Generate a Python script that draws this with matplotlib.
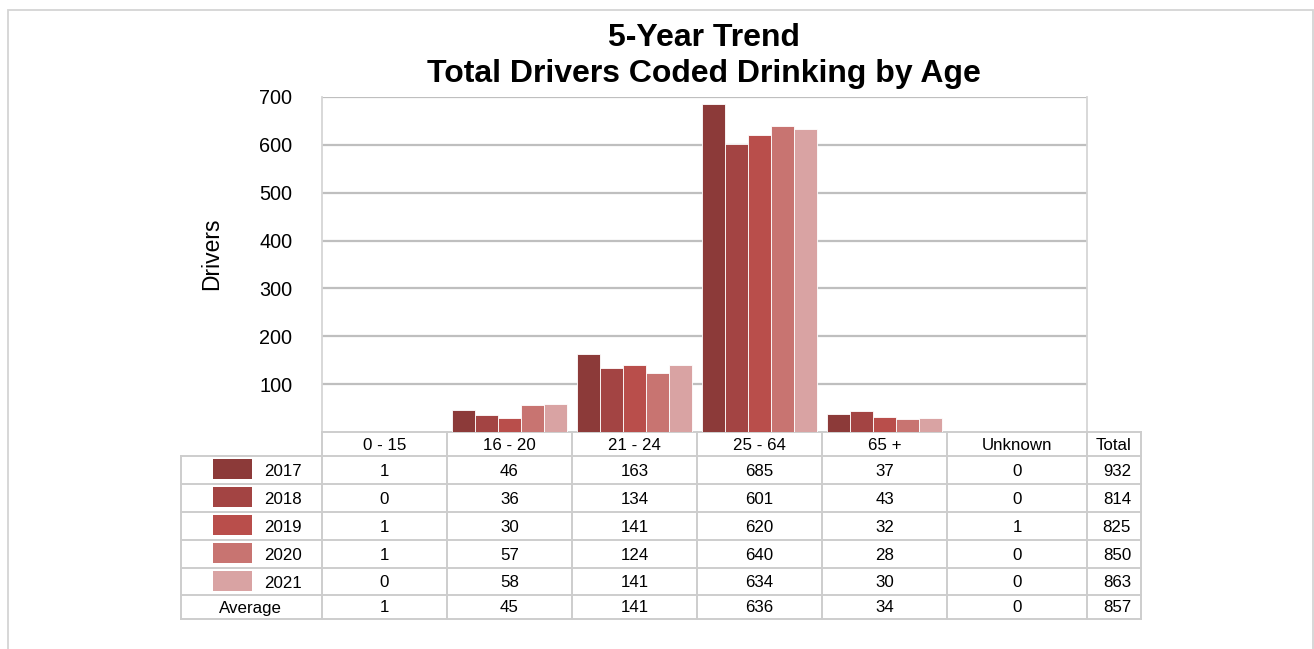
import matplotlib
matplotlib.use("Agg")
import numpy as np
from matplotlib import pyplot as plt
from matplotlib.patches import Rectangle
from matplotlib.lines import Line2D

plt.rcParams['font.family'] = ['Liberation Sans', 'DejaVu Sans']

age_groups = ['0 - 15', '16 - 20', '21 - 24', '25 - 64', '65 +', 'Unknown']
years = ['2017', '2018', '2019', '2020', '2021']
drivers_2017 = [1, 46, 163, 685, 37, 0]
drivers_2018 = [0, 36, 134, 601, 43, 0]
drivers_2019 = [1, 30, 141, 620, 32, 1]
drivers_2020 = [1, 57, 124, 640, 28, 0]
drivers_2021 = [0, 58, 141, 634, 30, 0]
average = [1, 45, 141, 636, 34, 0]
totals = [932, 814, 825, 850, 863]
avg_total = 857
colors = ['#8C3A39', '#A34443', '#B94E4B', '#C87471', '#D9A3A3']

series = [drivers_2017, drivers_2018, drivers_2019, drivers_2020, drivers_2021]

W, H = 1314, 649
fig = plt.figure(figsize=(W / 100, H / 100), dpi=100)


def fx(px):
    return px / W


def fy(py):
    return 1 - py / H


grid_c = '#BFBFBF'
tab_c = '#CDCDCD'

ax = fig.add_axes([fx(322), fy(432), fx(1087) - fx(322), fy(97) - fy(432)])
x = np.arange(len(age_groups))
bw = 0.184
for i, vals in enumerate(series):
    ax.bar(x + (i - 2) * bw, vals, width=bw, color=colors[i],
           edgecolor='white', linewidth=0.6, zorder=3)

ax.set_xlim(-0.5, 5.62)
ax.set_ylim(0, 700)
ax.set_yticks(range(100, 701, 100))
ax.set_xticks([])
ax.tick_params(axis='y', length=0, pad=21.5, labelsize=14.3)
ax.grid(axis='y', color=grid_c, linewidth=1.6, zorder=0)
for s in ['left', 'right']:
    ax.spines[s].set_color('#D6D6D6')
    ax.spines[s].set_linewidth(1.3)
ax.spines['top'].set_visible(False)
ax.spines['bottom'].set_color(tab_c)
ax.spines['bottom'].set_linewidth(1.4)

fig.text(fx(212), fy(254), 'Drivers', rotation=90, fontsize=16.5,
         ha='center', va='center')
fig.text(fx(704), fy(38), '5-Year Trend', fontsize=23, fontweight='bold',
         ha='center', va='center')
fig.text(fx(704), fy(74), 'Total Drivers Coded Drinking by Age', fontsize=23,
         fontweight='bold', ha='center', va='center')

# outer frame
fig.patches.append(Rectangle((fx(7.5), fy(660)), fx(1312.5) - fx(7.5),
                             fy(9.5) - fy(660), transform=fig.transFigure,
                             fill=False, edgecolor='#D4D4D4', linewidth=1.3))

# data table
col_edges = [322, 447, 572, 697, 822, 947, 1087, 1141]
row_edges = [432, 456, 484, 512, 540, 568, 595, 619]
lab_left = 181


def hline(y, x0, x1):
    fig.add_artist(Line2D([fx(x0), fx(x1)], [fy(y), fy(y)], color=tab_c,
                          linewidth=1.4, transform=fig.transFigure))


def vline(xp, y0, y1):
    fig.add_artist(Line2D([fx(xp), fx(xp)], [fy(y0), fy(y1)], color=tab_c,
                          linewidth=1.4, transform=fig.transFigure))


hline(432, 1087, 1141)
for y in row_edges[1:]:
    hline(y, lab_left, 1141)
for xp in col_edges:
    vline(xp, 432, 619)
vline(lab_left, 456, 619)

fs = 12.2
for j, name in enumerate(age_groups + ['Total']):
    cx = (col_edges[j] + col_edges[j + 1]) / 2
    fig.text(fx(cx), fy(445), name, fontsize=fs, ha='center', va='center')

for i, vals in enumerate(series + [average]):
    yc = (row_edges[i + 1] + row_edges[i + 2]) / 2 + 1
    for j, v in enumerate(vals):
        cx = (col_edges[j] + col_edges[j + 1]) / 2
        fig.text(fx(cx), fy(yc), str(v), fontsize=fs, ha='center', va='center')
    tot = totals[i] if i < len(totals) else avg_total
    fig.text(fx(1131), fy(yc), str(tot), fontsize=fs, ha='right', va='center')
    if i < len(years):
        top = row_edges[i + 1]
        fig.patches.append(Rectangle((fx(213), fy(top + 22.5)), fx(39), 19.5 / H,
                                     transform=fig.transFigure,
                                     facecolor=colors[i], edgecolor='none'))
        fig.text(fx(264), fy(yc + 1), years[i], fontsize=fs, ha='left', va='center')
    else:
        fig.text(fx(250), fy(yc), 'Average', fontsize=fs, ha='center', va='center')

fig.savefig('out.png', dpi=100)
